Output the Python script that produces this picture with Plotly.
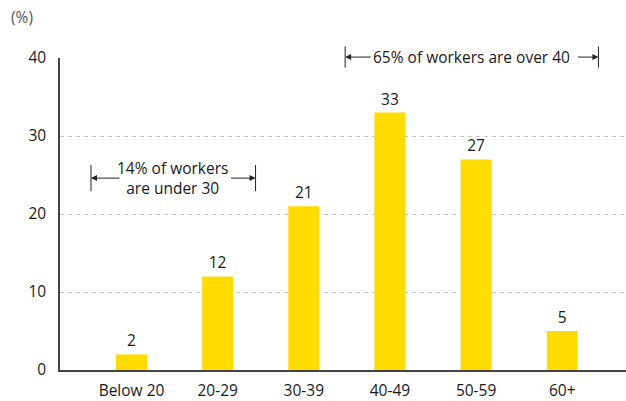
import plotly.graph_objects as go

# Age distribution of workers
age_groups = ["Below 20", "20-29", "30-39", "40-49", "50-59", "60+"]
share_pct = [2, 12, 21, 33, 27, 5]
y_ticks = [0, 10, 20, 30, 40]

BAR_COLOR = "#FFDC00"
AXIS_COLOR = "#444444"
TEXT_COLOR = "#1a1a1a"
FONT = "Open Sans, Lato, DejaVu Sans, sans-serif"
FS = 15.5

fig = go.Figure()
fig.add_trace(go.Bar(
    x=list(range(len(age_groups))),
    y=share_pct,
    width=0.36,
    marker=dict(color=BAR_COLOR, line=dict(width=0)),
    text=[str(v) for v in share_pct],
    textposition="outside",
    textfont=dict(size=FS, color=TEXT_COLOR, family=FONT),
    cliponaxis=False,
    hoverinfo="skip",
))

fig.update_layout(
    width=626, height=401,
    margin=dict(l=60, r=0, t=58, b=31),
    plot_bgcolor="white", paper_bgcolor="white",
    showlegend=False,
    font=dict(family=FONT, size=FS, color=TEXT_COLOR),
)
fig.update_xaxes(
    range=[-0.83, 5.74],
    tickmode="array",
    tickvals=list(range(len(age_groups))),
    ticktext=age_groups,
    ticks="outside", ticklen=6, tickcolor="rgba(0,0,0,0)",
    tickfont=dict(size=FS, color=TEXT_COLOR),
    showline=True, linecolor=AXIS_COLOR, linewidth=1.5,
    showgrid=False, zeroline=False, automargin=False,
)
fig.update_yaxes(
    range=[0, 40],
    tickmode="array", tickvals=y_ticks,
    ticks="outside", ticklen=9, tickcolor="rgba(0,0,0,0)",
    tickfont=dict(size=FS, color=TEXT_COLOR),
    showline=True, linecolor=AXIS_COLOR, linewidth=1.5,
    showgrid=True, gridcolor="#c4c4c4", gridwidth=1, griddash="4px,4px",
    zeroline=False, automargin=False,
)

# Unit label above the value axis
fig.add_annotation(
    text="(%)", xref="paper", yref="paper", x=-0.067, y=1.131,
    xanchor="center", yanchor="middle", showarrow=False,
    font=dict(size=FS, color="#555555"),
)


def bracket(x0, x1, y, half_h, label, tail_left, tail_right, label_x, label_y):
    """Draw a |<-- label -->| span between x0 and x1 (data x, paper y)."""
    for xv in (x0, x1):
        fig.add_shape(type="line", xref="x", yref="paper",
                      x0=xv, x1=xv, y0=y - half_h, y1=y + half_h,
                      line=dict(color="#222222", width=1))
    for xv, ax in ((x0, tail_left), (x1, -tail_right)):
        fig.add_annotation(
            x=xv, y=y, xref="x", yref="paper", text="",
            showarrow=True, ax=ax, ay=0, axref="pixel", ayref="pixel",
            arrowhead=2, arrowsize=1.2, arrowwidth=1, arrowcolor="#222222",
            standoff=0, startstandoff=0,
        )
    fig.add_annotation(
        x=label_x, y=label_y, xref="x", yref="paper", text=label,
        showarrow=False, xanchor="center", yanchor="middle",
        font=dict(size=FS, color=TEXT_COLOR), align="center",
    )


# Workers under 30
bracket(-0.47, 1.44, 0.615, 0.042, "14% of workers<br>are under 30",
        30, 26, 0.48, 0.615)
# Workers over 40
bracket(2.48, 5.42, 1.003, 0.034, "65% of workers are over 40",
        27, 22, 3.95, 1.003)

fig.write_html("out.html")
